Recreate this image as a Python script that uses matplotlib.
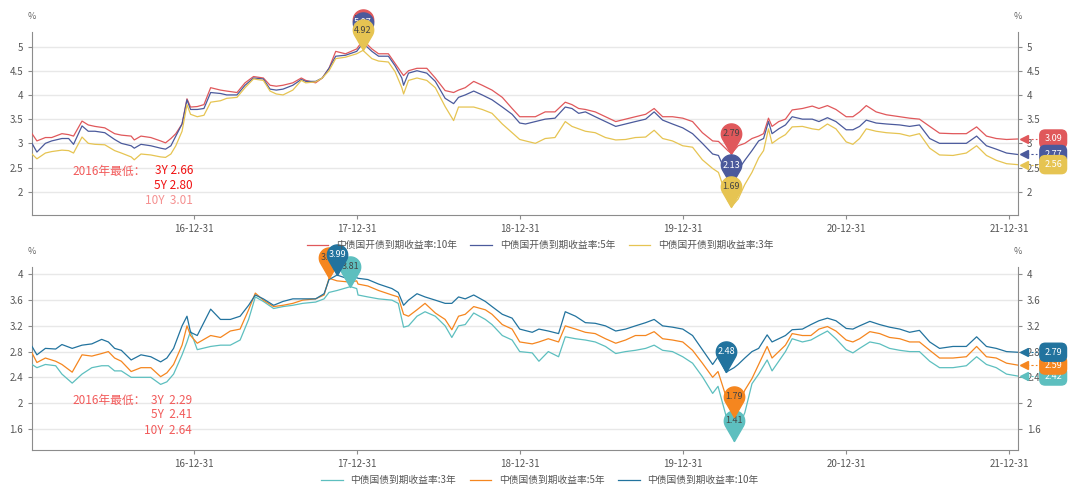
import numpy as np
import pandas as pd
import matplotlib
matplotlib.use('Agg')
import matplotlib.pyplot as plt
import matplotlib.dates as mdates
import matplotlib.transforms as mtransforms
from matplotlib.path import Path
from matplotlib.ticker import FuncFormatter

plt.rcParams['font.family'] = ['Noto Sans CJK SC', 'DejaVu Sans']

# ---- top panel: 中债国开债 (10Y, 5Y, 3Y) ----
top_dates = [
    '2016-01-04', '2016-01-15', '2016-02-03', '2016-02-17', '2016-03-11', '2016-03-26',
    '2016-04-06', '2016-04-25', '2016-05-09', '2016-05-24', '2016-06-15', '2016-07-07',
    '2016-07-22', '2016-08-13', '2016-08-20', '2016-09-04', '2016-09-26', '2016-10-18',
    '2016-10-29', '2016-11-10', '2016-11-21', '2016-12-05', '2016-12-16', '2016-12-24',
    '2017-01-08', '2017-01-23', '2017-02-07', '2017-03-01', '2017-03-15', '2017-04-07',
    '2017-04-25', '2017-05-14', '2017-06-05', '2017-06-20', '2017-07-04', '2017-07-19',
    '2017-08-10', '2017-08-29', '2017-09-08', '2017-09-30', '2017-10-15', '2017-10-30',
    '2017-11-14', '2017-12-06', '2017-12-31', '2018-01-14', '2018-02-03', '2018-02-18',
    '2018-03-12', '2018-03-27', '2018-04-11', '2018-04-15', '2018-04-26', '2018-05-15',
    '2018-06-06', '2018-06-25', '2018-07-17', '2018-08-05', '2018-08-16', '2018-08-31',
    '2018-09-19', '2018-10-08', '2018-10-30', '2018-11-22', '2018-12-14', '2018-12-31',
    '2019-01-13', '2019-02-04', '2019-02-26', '2019-03-20', '2019-04-12', '2019-04-27',
    '2019-05-12', '2019-05-27', '2019-06-18', '2019-07-11', '2019-08-03', '2019-08-25',
    '2019-09-16', '2019-10-09', '2019-10-28', '2019-11-16', '2019-12-08', '2019-12-31',
    '2020-01-22', '2020-02-13', '2020-03-07', '2020-03-20', '2020-04-10', '2020-04-18',
    '2020-05-03', '2020-05-18', '2020-06-03', '2020-06-18', '2020-06-29', '2020-07-10',
    '2020-07-18', '2020-08-02', '2020-08-17', '2020-09-01', '2020-09-24', '2020-10-16',
    '2020-10-31', '2020-11-19', '2020-12-08', '2020-12-31', '2021-01-15', '2021-01-30',
    '2021-02-14', '2021-03-08', '2021-03-31', '2021-04-30', '2021-05-22', '2021-06-13',
    '2021-07-06', '2021-07-28', '2021-08-27', '2021-09-26', '2021-10-19', '2021-11-10',
    '2021-12-02', '2021-12-25', '2022-01-19',
]
cdb_10y = [
    3.20, 3.05, 3.12, 3.12, 3.20, 3.18, 3.15, 3.46, 3.38, 3.35, 3.32, 3.20,
    3.17, 3.15, 3.07, 3.15, 3.12, 3.05, 3.01, 3.10, 3.20, 3.40, 3.92, 3.75,
    3.76, 3.80, 4.15, 4.10, 4.08, 4.05, 4.25, 4.38, 4.35, 4.20, 4.18, 4.20,
    4.25, 4.35, 4.30, 4.25, 4.35, 4.55, 4.90, 4.85, 4.95, 5.13, 4.95, 4.85,
    4.85, 4.65, 4.45, 4.40, 4.50, 4.55, 4.55, 4.35, 4.09, 4.05, 4.10, 4.15,
    4.28, 4.20, 4.10, 3.95, 3.72, 3.55, 3.55, 3.55, 3.65, 3.65, 3.85, 3.80,
    3.72, 3.70, 3.65, 3.55, 3.45, 3.50, 3.55, 3.60, 3.72, 3.55, 3.55, 3.52,
    3.45, 3.22, 3.05, 3.04, 2.85, 2.79, 2.95, 3.00, 3.10, 3.15, 3.20, 3.52,
    3.35, 3.45, 3.50, 3.69, 3.72, 3.77, 3.72, 3.78, 3.70, 3.55, 3.55, 3.65,
    3.78, 3.65, 3.59, 3.55, 3.52, 3.50, 3.35, 3.21, 3.20, 3.20, 3.34, 3.15,
    3.10, 3.08, 3.09,
]
cdb_5y = [
    3.00, 2.82, 3.00, 3.05, 3.10, 3.10, 2.98, 3.36, 3.25, 3.25, 3.22, 3.08,
    3.00, 2.95, 2.90, 2.98, 2.95, 2.90, 2.88, 2.95, 3.15, 3.40, 3.90, 3.70,
    3.70, 3.72, 4.05, 4.03, 4.00, 4.00, 4.20, 4.35, 4.33, 4.12, 4.10, 4.12,
    4.20, 4.32, 4.28, 4.28, 4.35, 4.55, 4.80, 4.82, 4.90, 5.07, 4.90, 4.80,
    4.80, 4.60, 4.35, 4.20, 4.45, 4.50, 4.45, 4.28, 3.93, 3.82, 3.95, 4.00,
    4.08, 4.00, 3.90, 3.75, 3.60, 3.42, 3.40, 3.45, 3.50, 3.52, 3.75, 3.72,
    3.62, 3.65, 3.55, 3.45, 3.35, 3.40, 3.45, 3.50, 3.65, 3.48, 3.40, 3.32,
    3.20, 3.00, 2.78, 2.75, 2.30, 2.13, 2.45, 2.65, 2.85, 3.05, 3.10, 3.45,
    3.20, 3.30, 3.38, 3.55, 3.50, 3.50, 3.45, 3.53, 3.45, 3.28, 3.28, 3.35,
    3.48, 3.42, 3.40, 3.38, 3.35, 3.38, 3.10, 3.00, 3.00, 3.00, 3.15, 2.95,
    2.88, 2.80, 2.77,
]
cdb_3y = [
    2.78, 2.68, 2.80, 2.83, 2.86, 2.85, 2.80, 3.13, 3.00, 2.98, 2.97, 2.85,
    2.80, 2.72, 2.66, 2.78, 2.76, 2.72, 2.71, 2.78, 2.95, 3.25, 3.80, 3.60,
    3.55, 3.58, 3.85, 3.88, 3.93, 3.95, 4.15, 4.33, 4.30, 4.08, 4.02, 4.00,
    4.10, 4.30, 4.25, 4.27, 4.35, 4.50, 4.75, 4.78, 4.85, 4.92, 4.75, 4.70,
    4.68, 4.48, 4.15, 4.02, 4.30, 4.35, 4.30, 4.15, 3.76, 3.47, 3.75, 3.75,
    3.75, 3.70, 3.62, 3.40, 3.22, 3.08, 3.05, 3.00, 3.10, 3.12, 3.45, 3.35,
    3.30, 3.25, 3.22, 3.12, 3.07, 3.08, 3.12, 3.13, 3.27, 3.10, 3.05, 2.95,
    2.92, 2.66, 2.48, 2.40, 1.82, 1.69, 1.85, 2.15, 2.40, 2.70, 2.85, 3.30,
    3.00, 3.10, 3.18, 3.34, 3.35, 3.30, 3.28, 3.40, 3.30, 3.03, 2.98, 3.10,
    3.30, 3.25, 3.22, 3.20, 3.15, 3.20, 2.90, 2.76, 2.75, 2.80, 2.95, 2.75,
    2.65, 2.58, 2.56,
]

# ---- bottom panel: 中债国债 (3Y, 5Y, 10Y) ----
bot_dates = [
    '2016-01-04', '2016-01-15', '2016-02-03', '2016-02-26', '2016-03-11', '2016-04-03',
    '2016-04-25', '2016-05-17', '2016-06-08', '2016-06-23', '2016-07-07', '2016-07-22',
    '2016-08-13', '2016-09-04', '2016-09-26', '2016-10-18', '2016-11-01', '2016-11-16',
    '2016-12-05', '2016-12-16', '2016-12-24', '2017-01-08', '2017-02-07', '2017-03-01',
    '2017-03-23', '2017-04-14', '2017-05-03', '2017-05-18', '2017-06-05', '2017-06-28',
    '2017-07-19', '2017-08-10', '2017-09-01', '2017-09-30', '2017-10-19', '2017-10-30',
    '2017-11-17', '2017-12-17', '2017-12-31', '2018-01-03', '2018-01-25', '2018-02-18',
    '2018-03-20', '2018-04-03', '2018-04-15', '2018-04-26', '2018-05-15', '2018-06-02',
    '2018-06-25', '2018-07-17', '2018-08-01', '2018-08-16', '2018-08-31', '2018-09-19',
    '2018-10-15', '2018-10-30', '2018-11-22', '2018-12-14', '2018-12-31', '2019-01-28',
    '2019-02-12', '2019-03-05', '2019-03-28', '2019-04-12', '2019-05-05', '2019-05-27',
    '2019-06-18', '2019-07-11', '2019-08-03', '2019-08-25', '2019-09-16', '2019-10-09',
    '2019-10-28', '2019-11-16', '2019-12-08', '2019-12-31', '2020-01-22', '2020-02-13',
    '2020-03-07', '2020-03-19', '2020-04-06', '2020-04-24', '2020-05-03', '2020-05-18',
    '2020-06-03', '2020-06-18', '2020-07-07', '2020-07-18', '2020-08-02', '2020-08-17',
    '2020-09-01', '2020-09-24', '2020-10-13', '2020-10-31', '2020-11-19', '2020-12-08',
    '2020-12-31', '2021-01-15', '2021-01-30', '2021-02-22', '2021-03-16', '2021-04-07',
    '2021-04-30', '2021-05-22', '2021-06-13', '2021-07-06', '2021-07-28', '2021-08-27',
    '2021-09-26', '2021-10-19', '2021-11-10', '2021-12-02', '2021-12-25', '2022-01-19',
]
gov_10y = [
    2.88, 2.75, 2.85, 2.84, 2.91, 2.85, 2.90, 2.92, 2.99, 2.95, 2.85, 2.82,
    2.67, 2.75, 2.72, 2.64, 2.70, 2.85, 3.20, 3.35, 3.10, 3.05, 3.46, 3.30,
    3.30, 3.35, 3.52, 3.68, 3.62, 3.52, 3.58, 3.62, 3.62, 3.62, 3.70, 3.92,
    3.99, 3.92, 3.95, 3.94, 3.92, 3.85, 3.78, 3.72, 3.52, 3.60, 3.70, 3.65,
    3.60, 3.55, 3.55, 3.65, 3.62, 3.68, 3.58, 3.50, 3.38, 3.32, 3.15, 3.10,
    3.15, 3.12, 3.08, 3.42, 3.35, 3.25, 3.24, 3.20, 3.12, 3.15, 3.20, 3.25,
    3.30, 3.20, 3.18, 3.15, 3.05, 2.83, 2.60, 2.72, 2.48, 2.55, 2.60, 2.70,
    2.80, 2.85, 3.06, 2.95, 3.00, 3.05, 3.14, 3.15, 3.22, 3.28, 3.32, 3.28,
    3.16, 3.15, 3.20, 3.27, 3.22, 3.18, 3.15, 3.10, 3.13, 2.95, 2.85, 2.88,
    2.88, 3.03, 2.88, 2.85, 2.80, 2.79,
]
gov_5y = [
    2.78, 2.63, 2.70, 2.65, 2.60, 2.48, 2.75, 2.73, 2.77, 2.80, 2.70, 2.65,
    2.49, 2.55, 2.55, 2.41, 2.47, 2.60, 2.90, 3.20, 3.05, 2.93, 3.05, 3.02,
    3.12, 3.15, 3.45, 3.71, 3.60, 3.50, 3.52, 3.55, 3.60, 3.62, 3.68, 3.94,
    3.90, 3.88, 3.90, 3.85, 3.82, 3.75, 3.68, 3.65, 3.38, 3.35, 3.45, 3.55,
    3.40, 3.30, 3.14, 3.35, 3.38, 3.50, 3.45, 3.38, 3.22, 3.15, 2.95, 2.92,
    2.95, 3.00, 2.95, 3.20, 3.15, 3.10, 3.08, 3.00, 2.93, 2.98, 3.05, 3.05,
    3.11, 3.00, 2.98, 2.95, 2.82, 2.62, 2.40, 2.49, 2.10, 1.79, 1.95, 2.20,
    2.38, 2.60, 2.88, 2.70, 2.80, 2.90, 3.08, 3.05, 3.05, 3.15, 3.19, 3.12,
    2.98, 2.95, 3.00, 3.11, 3.08, 3.02, 3.00, 2.95, 2.95, 2.82, 2.70, 2.70,
    2.72, 2.88, 2.72, 2.70, 2.62, 2.59,
]
gov_3y = [
    2.60, 2.55, 2.60, 2.58, 2.45, 2.31, 2.45, 2.55, 2.58, 2.58, 2.50, 2.50,
    2.40, 2.40, 2.40, 2.29, 2.33, 2.45, 2.75, 2.95, 3.12, 2.83, 2.88, 2.90,
    2.90, 2.98, 3.30, 3.65, 3.58, 3.47, 3.50, 3.52, 3.55, 3.57, 3.62, 3.72,
    3.75, 3.81, 3.78, 3.68, 3.65, 3.62, 3.60, 3.55, 3.18, 3.20, 3.35, 3.42,
    3.35, 3.20, 3.02, 3.20, 3.22, 3.40, 3.30, 3.22, 3.05, 2.98, 2.80, 2.78,
    2.65, 2.80, 2.72, 3.03, 3.00, 2.98, 2.95, 2.88, 2.77, 2.80, 2.82, 2.85,
    2.90, 2.82, 2.80, 2.72, 2.62, 2.41, 2.15, 2.26, 1.80, 1.41, 1.60, 1.85,
    2.30, 2.45, 2.67, 2.50, 2.65, 2.80, 3.00, 2.95, 2.98, 3.05, 3.12, 3.00,
    2.83, 2.78, 2.85, 2.95, 2.92, 2.85, 2.82, 2.80, 2.80, 2.65, 2.55, 2.55,
    2.58, 2.72, 2.60, 2.55, 2.45, 2.42,
]

top_names = ['中债国开债到期收益率:10年', '中债国开债到期收益率:5年', '中债国开债到期收益率:3年']
bot_names = ['中债国债到期收益率:3年', '中债国债到期收益率:5年', '中债国债到期收益率:10年']
top_colors = ['#e0585b', '#4b5a9c', '#e6c452']
bot_colors = ['#5dbfbf', '#f5861f', '#22739e']
top_pin_text = ['#444444', 'white', '#444444']
bot_pin_text = ['#444444', '#444444', 'white']

W, H = 1080, 487
fig = plt.figure(figsize=(W / 100, H / 100), dpi=100)


def fx(x):
    return x / W


def fy(y):
    return 1 - y / H


def pin_path():
    th = np.linspace(np.radians(-30), np.radians(210), 40)
    verts = np.column_stack([np.r_[0, np.cos(th), 0], np.r_[0, 2 + np.sin(th), 0]])
    codes = [Path.MOVETO] + [Path.LINETO] * (len(verts) - 2) + [Path.CLOSEPOLY]
    return Path(verts, codes)


PIN = pin_path()
PIN_MS = 44


def draw_panel(ax, dates, series, colors, names, text_cols, ylim, yticks):
    d = pd.to_datetime(dates)
    handles = []
    for vals, c, n in zip(series, colors, names):
        h, = ax.plot(d, vals, color=c, lw=0.9, label=n, zorder=3)
        handles.append(h)
    ax.set_ylim(*ylim)
    ax.set_xlim(pd.Timestamp('2016-01-04'), pd.Timestamp('2022-01-19'))
    ax.set_yticks(yticks)
    ax.yaxis.set_major_formatter(FuncFormatter(lambda v, p: f'{v:g}'))
    ax.set_xticks(pd.to_datetime(['2016-12-31', '2017-12-31', '2018-12-31',
                                  '2019-12-31', '2020-12-31', '2021-12-31']))
    ax.xaxis.set_major_formatter(mdates.DateFormatter('%y-%m-%d'))
    ax.grid(axis='y', color='#e8e8e8', lw=1)
    ax.set_axisbelow(True)
    for s in ['left', 'right', 'bottom']:
        ax.spines[s].set_color('#8c8c8c')
    ax.spines['top'].set_visible(False)
    ax.tick_params(axis='both', colors='#8c8c8c', labelcolor='#555555', labelsize=7,
                   length=3, right=True, labelright=True)
    ax.text(0, 1.06, '%', transform=ax.transAxes, ha='center', va='bottom',
            fontsize=6.5, color='#666666')
    ax.text(1, 1.06, '%', transform=ax.transAxes, ha='center', va='bottom',
            fontsize=6.5, color='#666666')

    # max / min pins, later series stacked over earlier ones
    for k, (vals, c, tc) in enumerate(zip(series, colors, text_cols)):
        for i in (int(np.argmax(vals)), int(np.argmin(vals))):
            ax.plot(d[i], vals[i], marker=PIN, ms=PIN_MS, color=c, mec=c,
                    zorder=5 + 2 * k, clip_on=False)
            ax.annotate(f'{vals[i]:.2f}', (d[i], vals[i]), xytext=(0, PIN_MS / 3),
                        textcoords='offset points', ha='center', va='center',
                        fontsize=6.5, color=tc, zorder=6 + 2 * k, annotation_clip=False)

    # end-value markers on the right
    trans = mtransforms.blended_transform_factory(ax.transAxes, ax.transData)
    for k, (vals, c) in enumerate(zip(series, colors)):
        v = vals[-1]
        ax.plot([1.004, 1.02], [v, v], transform=trans, color=c, lw=0.8, ls=(0, (2, 2)),
                clip_on=False, zorder=4)
        ax.plot([1.006], [v], transform=trans, marker='<', ms=6, color=c,
                clip_on=False, zorder=4)
        ax.text(1.036, v, f'{v:.2f}', transform=trans, ha='center', va='center',
                fontsize=6.5, color='white', zorder=12 + k, clip_on=False,
                bbox=dict(boxstyle='round,pad=0.5,rounding_size=0.6', fc=c, ec=c))
    return handles


ax_t = fig.add_axes([fx(32), fy(215), fx(1017.7 - 32), fy(32) - fy(215)])
ax_b = fig.add_axes([fx(32), fy(450), fx(1017.7 - 32), fy(266.7) - fy(450)])

h_t = draw_panel(ax_t, top_dates, [cdb_10y, cdb_5y, cdb_3y], top_colors, top_names,
                 top_pin_text, (1.52, 5.3), [2, 2.5, 3, 3.5, 4, 4.5, 5])
h_b = draw_panel(ax_b, bot_dates, [gov_3y, gov_5y, gov_10y], bot_colors, bot_names,
                 bot_pin_text, (1.27, 4.12), [1.6, 2, 2.4, 2.8, 3.2, 3.6, 4])

fig.legend(h_t, top_names, loc='center', bbox_to_anchor=(0.5, fy(245)), ncol=3,
           frameon=False, fontsize=7, handlelength=2.2, columnspacing=1.4,
           labelcolor='#555555')
fig.legend(h_b, bot_names, loc='center', bbox_to_anchor=(0.5, fy(480)), ncol=3,
           frameon=False, fontsize=7, handlelength=2.2, columnspacing=1.4,
           labelcolor='#555555')

# 2016 lows notes
fs = 8.5
fig.text(fx(146), fy(171), '2016年最低：', ha='right', va='center', fontsize=fs, color='#f25a5a')
fig.text(fx(193), fy(171), '3Y 2.66', ha='right', va='center', fontsize=fs, color='#f01010')
fig.text(fx(193), fy(185.5), '5Y 2.80', ha='right', va='center', fontsize=fs, color='#f01010')
fig.text(fx(193), fy(200), '10Y  3.01', ha='right', va='center', fontsize=fs, color='#f59090')

fig.text(fx(146), fy(400), '2016年最低：', ha='right', va='center', fontsize=fs, color='#f25a5a')
fig.text(fx(192), fy(400), '3Y  2.29', ha='right', va='center', fontsize=fs, color='#f25a5a')
fig.text(fx(192), fy(415), '5Y  2.41', ha='right', va='center', fontsize=fs, color='#f25a5a')
fig.text(fx(192), fy(430), '10Y  2.64', ha='right', va='center', fontsize=fs, color='#f25a5a')

fig.savefig('out.png', dpi=100, facecolor='white')
